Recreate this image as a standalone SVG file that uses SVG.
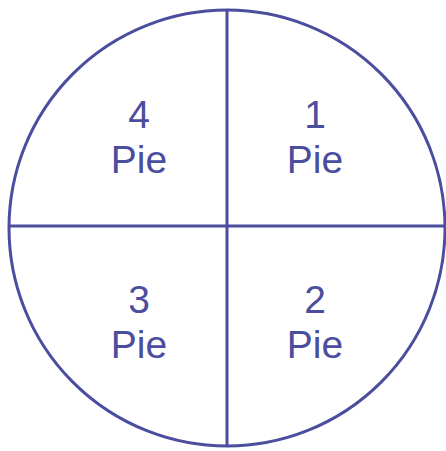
<svg xmlns="http://www.w3.org/2000/svg" width="446" height="451" viewBox="0 0 446 451">
<style>
.ln{fill:none;stroke:#4b4d9e;stroke-width:3}
.t{font-family:"Liberation Sans",Arial,sans-serif;font-size:39px;fill:#4b4d9e;text-anchor:middle}
</style>
<rect width="446" height="451" fill="#fff"/>
<g id="circle"><circle class="ln" cx="227" cy="228" r="218"/></g>
<g id="connectors">
<line class="ln" x1="227" y1="10" x2="227" y2="446"/>
<line class="ln" x1="9" y1="226" x2="445" y2="226"/>
</g>
<g id="q4"><text class="t" x="139" y="128">4</text><text class="t" x="139" y="173">Pie</text></g>
<g id="q1"><text class="t" x="315" y="128">1</text><text class="t" x="315" y="173">Pie</text></g>
<g id="q3"><text class="t" x="139" y="313">3</text><text class="t" x="139" y="358">Pie</text></g>
<g id="q2"><text class="t" x="315" y="313">2</text><text class="t" x="315" y="358">Pie</text></g>
</svg>
